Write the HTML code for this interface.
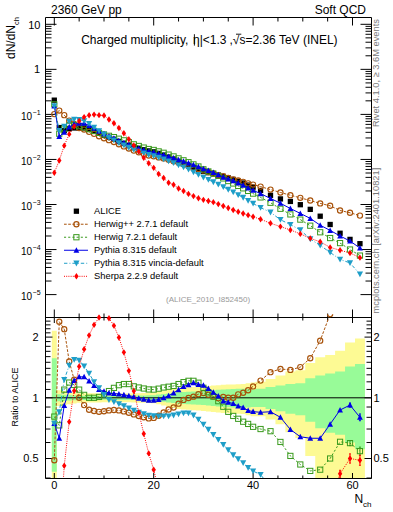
<!DOCTYPE html><html><head><meta charset="utf-8"><style>html,body{margin:0;padding:0;background:#fff;width:393px;height:512px;overflow:hidden}</style></head><body><svg width="393" height="512" viewBox="0 0 393 512" style="display:block"><defs><clipPath id="ct"><rect x="45.5" y="17.5" width="325.5" height="300"/></clipPath><clipPath id="cr"><rect x="45.5" y="317.5" width="325.5" height="160.5"/></clipPath><clipPath id="crm"><rect x="45.5" y="314.3" width="325.5" height="164.7"/></clipPath></defs><rect width="393" height="512" fill="#fff"/><g clip-path="url(#cr)"><path d="M51.81 330.77 L56.78 330.77 L56.78 390.25 L61.75 390.25 L61.75 391.06 L66.72 391.06 L66.72 391.74 L71.69 391.74 L71.69 392.42 L76.66 392.42 L76.66 393.11 L81.63 393.11 L81.63 393.19 L86.60 393.19 L86.60 393.28 L91.57 393.28 L91.57 393.36 L96.54 393.36 L96.54 393.44 L101.51 393.44 L101.51 393.53 L106.48 393.53 L106.48 393.53 L111.45 393.53 L111.45 393.53 L116.42 393.53 L116.42 393.53 L121.39 393.53 L121.39 393.53 L126.36 393.53 L126.36 393.53 L131.33 393.53 L131.33 393.36 L136.31 393.36 L136.31 393.19 L141.27 393.19 L141.27 393.03 L146.25 393.03 L146.25 392.86 L151.21 392.86 L151.21 392.70 L156.19 392.70 L156.19 391.71 L161.15 391.71 L161.15 390.74 L166.12 390.74 L166.12 389.77 L171.09 389.77 L171.09 388.82 L176.06 388.82 L176.06 387.88 L181.03 387.88 L181.03 387.56 L186.00 387.56 L186.00 387.25 L190.97 387.25 L190.97 386.94 L195.94 386.94 L195.94 386.63 L200.91 386.63 L200.91 386.33 L205.88 386.33 L205.88 385.94 L210.85 385.94 L210.85 385.56 L215.82 385.56 L215.82 385.18 L220.80 385.18 L220.80 384.80 L225.76 384.80 L225.76 384.61 L230.74 384.61 L230.74 384.43 L235.70 384.43 L235.70 384.24 L240.68 384.24 L240.68 384.05 L245.64 384.05 L245.64 383.31 L250.62 383.31 L250.62 382.57 L255.58 382.57 L255.58 381.83 L265.52 381.83 L265.52 378.96 L275.46 378.96 L275.46 375.50 L285.40 375.50 L285.40 371.52 L295.34 371.52 L295.34 370.23 L305.28 370.23 L305.28 362.88 L315.23 362.88 L315.23 357.19 L325.17 357.19 L325.17 355.01 L335.11 355.01 L335.11 350.82 L345.05 350.82 L345.05 342.52 L354.99 342.52 L354.99 338.42 L364.93 338.42 L364.93 704.87 L354.99 704.87 L354.99 583.47 L345.05 583.47 L345.05 509.28 L335.11 509.28 L335.11 489.73 L325.17 489.73 L325.17 482.53 L315.23 482.53 L315.23 455.91 L305.28 455.91 L305.28 437.98 L295.34 437.98 L295.34 432.35 L285.40 432.35 L285.40 424.17 L275.46 424.17 L275.46 419.56 L265.52 419.56 L265.52 416.25 L255.58 416.25 L255.58 416.25 L250.62 416.25 L250.62 415.18 L245.64 415.18 L245.64 414.12 L240.68 414.12 L240.68 413.85 L235.70 413.85 L235.70 413.59 L230.74 413.59 L230.74 413.33 L225.76 413.33 L225.76 413.07 L220.80 413.07 L220.80 412.55 L215.82 412.55 L215.82 412.03 L210.85 412.03 L210.85 411.52 L205.88 411.52 L205.88 411.01 L200.91 411.01 L200.91 410.60 L195.94 410.60 L195.94 410.20 L190.97 410.20 L190.97 409.79 L186.00 409.79 L186.00 409.39 L181.03 409.39 L181.03 408.99 L176.06 408.99 L176.06 407.81 L171.09 407.81 L171.09 406.64 L166.12 406.64 L166.12 405.48 L161.15 405.48 L161.15 404.34 L156.19 404.34 L156.19 403.22 L151.21 403.22 L151.21 403.03 L146.25 403.03 L146.25 402.85 L141.27 402.85 L141.27 402.66 L136.31 402.66 L136.31 402.48 L131.33 402.48 L131.33 402.29 L126.36 402.29 L126.36 402.29 L121.39 402.29 L121.39 402.29 L116.42 402.29 L116.42 402.29 L111.45 402.29 L111.45 402.29 L106.48 402.29 L106.48 402.29 L101.51 402.29 L101.51 402.38 L96.54 402.38 L96.54 402.48 L91.57 402.48 L91.57 402.57 L86.60 402.57 L86.60 402.66 L81.63 402.66 L81.63 402.75 L76.66 402.75 L76.66 403.53 L71.69 403.53 L71.69 404.31 L66.72 404.31 L66.72 405.10 L61.75 405.10 L61.75 406.06 L56.78 406.06 L56.78 480.00 L51.81 480.00Z" fill="#fdfa94"/><path d="M51.81 358.30 L56.78 358.30 L56.78 394.37 L61.75 394.37 L61.75 394.79 L66.72 394.79 L66.72 395.07 L71.69 395.07 L71.69 395.35 L76.66 395.35 L76.66 395.64 L81.63 395.64 L81.63 395.69 L86.60 395.69 L86.60 395.74 L91.57 395.74 L91.57 395.79 L96.54 395.79 L96.54 395.84 L101.51 395.84 L101.51 395.89 L106.48 395.89 L106.48 395.84 L111.45 395.84 L111.45 395.79 L116.42 395.79 L116.42 395.74 L121.39 395.74 L121.39 395.69 L126.36 395.69 L126.36 395.64 L131.33 395.64 L131.33 395.55 L136.31 395.55 L136.31 395.47 L141.27 395.47 L141.27 395.38 L146.25 395.38 L146.25 395.30 L151.21 395.30 L151.21 395.21 L156.19 395.21 L156.19 394.62 L161.15 394.62 L161.15 394.03 L166.12 394.03 L166.12 393.44 L171.09 393.44 L171.09 392.86 L176.06 392.86 L176.06 392.29 L181.03 392.29 L181.03 392.04 L186.00 392.04 L186.00 391.79 L190.97 391.79 L190.97 391.55 L195.94 391.55 L195.94 391.30 L200.91 391.30 L200.91 391.06 L205.88 391.06 L205.88 390.66 L210.85 390.66 L210.85 390.25 L215.82 390.25 L215.82 389.85 L220.80 389.85 L220.80 389.45 L225.76 389.45 L225.76 389.25 L230.74 389.25 L230.74 389.06 L235.70 389.06 L235.70 388.86 L240.68 388.86 L240.68 388.66 L245.64 388.66 L245.64 389.06 L250.62 389.06 L250.62 389.45 L255.58 389.45 L255.58 388.66 L265.52 388.66 L265.52 387.10 L275.46 387.10 L275.46 385.56 L285.40 385.56 L285.40 384.05 L295.34 384.05 L295.34 383.31 L305.28 383.31 L305.28 378.26 L315.23 378.26 L315.23 375.50 L325.17 375.50 L325.17 373.49 L335.11 373.49 L335.11 371.52 L345.05 371.52 L345.05 366.48 L354.99 366.48 L354.99 364.06 L364.93 364.06 L364.93 449.36 L354.99 449.36 L354.99 442.53 L345.05 442.53 L345.05 434.85 L335.11 434.85 L335.11 432.87 L325.17 432.87 L325.17 428.29 L315.23 428.29 L315.23 421.83 L305.28 421.83 L305.28 415.29 L295.34 415.29 L295.34 413.70 L285.40 413.70 L285.40 411.21 L275.46 411.21 L275.46 408.99 L265.52 408.99 L265.52 407.03 L255.58 407.03 L255.58 407.03 L250.62 407.03 L250.62 407.51 L245.64 407.51 L245.64 408.01 L240.68 408.01 L240.68 407.76 L235.70 407.76 L235.70 407.51 L230.74 407.51 L230.74 407.27 L225.76 407.27 L225.76 407.03 L220.80 407.03 L220.80 406.54 L215.82 406.54 L215.82 406.06 L210.85 406.06 L210.85 405.58 L205.88 405.58 L205.88 405.10 L200.91 405.10 L200.91 404.82 L195.94 404.82 L195.94 404.53 L190.97 404.53 L190.97 404.25 L186.00 404.25 L186.00 403.97 L181.03 403.97 L181.03 403.69 L176.06 403.69 L176.06 403.03 L171.09 403.03 L171.09 402.38 L166.12 402.38 L166.12 401.74 L161.15 401.74 L161.15 401.10 L156.19 401.10 L156.19 400.47 L151.21 400.47 L151.21 400.38 L146.25 400.38 L146.25 400.29 L141.27 400.29 L141.27 400.20 L136.31 400.20 L136.31 400.11 L131.33 400.11 L131.33 400.02 L126.36 400.02 L126.36 399.96 L121.39 399.96 L121.39 399.91 L116.42 399.91 L116.42 399.86 L111.45 399.86 L111.45 399.80 L106.48 399.80 L106.48 399.75 L101.51 399.75 L101.51 399.80 L96.54 399.80 L96.54 399.86 L91.57 399.86 L91.57 399.91 L86.60 399.91 L86.60 399.96 L81.63 399.96 L81.63 400.02 L76.66 400.02 L76.66 400.32 L71.69 400.32 L71.69 400.62 L66.72 400.62 L66.72 400.92 L61.75 400.92 L61.75 401.37 L56.78 401.37 L56.78 471.71 L51.81 471.71Z" fill="#98fb98"/></g><line x1="45.5" y1="397.80" x2="371" y2="397.80" stroke="#000" stroke-width="1"/><g stroke="#000" stroke-width="1" fill="none"><path d="M45.5 17.5H371.5V478.5H45.5Z"/><path d="M45.5 317.5H371.5"/><path d="M45.5 294.60h11M371.5 294.60h-11M45.5 281.04h6M371.5 281.04h-6M45.5 273.11h6M371.5 273.11h-6M45.5 267.48h6M371.5 267.48h-6M45.5 263.11h6M371.5 263.11h-6M45.5 259.54h6M371.5 259.54h-6M45.5 256.53h6M371.5 256.53h-6M45.5 253.92h6M371.5 253.92h-6M45.5 251.61h6M371.5 251.61h-6M45.5 249.55h11M371.5 249.55h-11M45.5 235.99h6M371.5 235.99h-6M45.5 228.06h6M371.5 228.06h-6M45.5 222.43h6M371.5 222.43h-6M45.5 218.06h6M371.5 218.06h-6M45.5 214.49h6M371.5 214.49h-6M45.5 211.48h6M371.5 211.48h-6M45.5 208.87h6M371.5 208.87h-6M45.5 206.56h6M371.5 206.56h-6M45.5 204.50h11M371.5 204.50h-11M45.5 190.94h6M371.5 190.94h-6M45.5 183.01h6M371.5 183.01h-6M45.5 177.38h6M371.5 177.38h-6M45.5 173.01h6M371.5 173.01h-6M45.5 169.44h6M371.5 169.44h-6M45.5 166.43h6M371.5 166.43h-6M45.5 163.82h6M371.5 163.82h-6M45.5 161.51h6M371.5 161.51h-6M45.5 159.45h11M371.5 159.45h-11M45.5 145.89h6M371.5 145.89h-6M45.5 137.96h6M371.5 137.96h-6M45.5 132.33h6M371.5 132.33h-6M45.5 127.96h6M371.5 127.96h-6M45.5 124.39h6M371.5 124.39h-6M45.5 121.38h6M371.5 121.38h-6M45.5 118.77h6M371.5 118.77h-6M45.5 116.46h6M371.5 116.46h-6M45.5 114.40h11M371.5 114.40h-11M45.5 100.84h6M371.5 100.84h-6M45.5 92.91h6M371.5 92.91h-6M45.5 87.28h6M371.5 87.28h-6M45.5 82.91h6M371.5 82.91h-6M45.5 79.34h6M371.5 79.34h-6M45.5 76.33h6M371.5 76.33h-6M45.5 73.72h6M371.5 73.72h-6M45.5 71.41h6M371.5 71.41h-6M45.5 69.35h11M371.5 69.35h-11M45.5 55.79h6M371.5 55.79h-6M45.5 47.86h6M371.5 47.86h-6M45.5 42.23h6M371.5 42.23h-6M45.5 37.86h6M371.5 37.86h-6M45.5 34.29h6M371.5 34.29h-6M45.5 31.28h6M371.5 31.28h-6M45.5 28.67h6M371.5 28.67h-6M45.5 26.36h6M371.5 26.36h-6M45.5 24.30h11M371.5 24.30h-11M54.30 17.5v8M54.30 317.5v-8M54.30 317.5v5.5M54.30 478.5v-5.5M79.15 17.5v4M79.15 317.5v-4M79.15 317.5v3M79.15 478.5v-3M104.00 17.5v4M104.00 317.5v-4M104.00 317.5v3M104.00 478.5v-3M128.85 17.5v4M128.85 317.5v-4M128.85 317.5v3M128.85 478.5v-3M153.70 17.5v8M153.70 317.5v-8M153.70 317.5v5.5M153.70 478.5v-5.5M178.55 17.5v4M178.55 317.5v-4M178.55 317.5v3M178.55 478.5v-3M203.40 17.5v4M203.40 317.5v-4M203.40 317.5v3M203.40 478.5v-3M228.25 17.5v4M228.25 317.5v-4M228.25 317.5v3M228.25 478.5v-3M253.10 17.5v8M253.10 317.5v-8M253.10 317.5v5.5M253.10 478.5v-5.5M277.95 17.5v4M277.95 317.5v-4M277.95 317.5v3M277.95 478.5v-3M302.80 17.5v4M302.80 317.5v-4M302.80 317.5v3M302.80 478.5v-3M327.65 17.5v4M327.65 317.5v-4M327.65 317.5v3M327.65 478.5v-3M352.50 17.5v8M352.50 317.5v-8M352.50 317.5v5.5M352.50 478.5v-5.5M45.5 478.04h5M371.5 478.04h-5M45.5 458.50h7M371.5 458.50h-7M45.5 442.53h5M371.5 442.53h-5M45.5 429.03h5M371.5 429.03h-5M45.5 417.34h5M371.5 417.34h-5M45.5 407.03h5M371.5 407.03h-5M45.5 397.80h7M371.5 397.80h-7M45.5 389.45h5M371.5 389.45h-5M45.5 381.83h5M371.5 381.83h-5M45.5 374.82h5M371.5 374.82h-5M45.5 368.33h5M371.5 368.33h-5M45.5 362.29h5M371.5 362.29h-5M45.5 356.64h5M371.5 356.64h-5M45.5 351.33h5M371.5 351.33h-5M45.5 346.33h5M371.5 346.33h-5M45.5 341.59h5M371.5 341.59h-5M45.5 337.10h7M371.5 337.10h-7M45.5 332.83h5M371.5 332.83h-5M45.5 328.75h5M371.5 328.75h-5M45.5 324.86h5M371.5 324.86h-5M45.5 321.13h5M371.5 321.13h-5"/></g><g clip-path="url(#cr)"><path d="M54.30 460.27 L59.27 321.68 L64.24 329.15 L69.21 361.42 L74.18 379.67 L79.15 397.80 L84.12 405.10 L89.09 409.79 L94.06 411.01 L99.03 411.83 L104.00 411.21 L108.97 410.40 L113.94 410.00 L118.91 410.40 L123.88 411.42 L128.85 412.76 L133.82 414.43 L138.79 416.04 L143.76 417.34 L148.73 418.44 L153.70 417.89 L158.67 415.71 L163.64 412.55 L168.61 409.49 L173.58 407.51 L178.55 403.69 L183.52 399.93 L188.49 397.98 L193.46 396.67 L198.43 394.20 L203.40 392.95 L208.37 394.79 L213.34 396.50 L218.31 398.24 L223.28 396.93 L228.25 397.80 L233.22 397.80 L238.19 394.37 L243.16 392.70 L248.13 390.25 L253.10 386.40 L260.56 380.60 L270.50 372.17 L280.44 368.96 L290.38 369.91 L300.31 367.09 L310.25 358.30 L320.19 340.67 L330.13 314.12 L340.07 295.94 L350.01 278.62 L359.95 272.13" fill="none" stroke="#a8520a" stroke-width="1" stroke-dasharray="2.7,1.5"/></g><g clip-path="url(#crm)"><circle cx="54.30" cy="460.27" r="2.6" fill="none" stroke="#a8520a" stroke-width="1.15"/><circle cx="59.27" cy="321.68" r="2.6" fill="none" stroke="#a8520a" stroke-width="1.15"/><circle cx="64.24" cy="329.15" r="2.6" fill="none" stroke="#a8520a" stroke-width="1.15"/><circle cx="69.21" cy="361.42" r="2.6" fill="none" stroke="#a8520a" stroke-width="1.15"/><circle cx="74.18" cy="379.67" r="2.6" fill="none" stroke="#a8520a" stroke-width="1.15"/><circle cx="79.15" cy="397.80" r="2.6" fill="none" stroke="#a8520a" stroke-width="1.15"/><circle cx="84.12" cy="405.10" r="2.6" fill="none" stroke="#a8520a" stroke-width="1.15"/><circle cx="89.09" cy="409.79" r="2.6" fill="none" stroke="#a8520a" stroke-width="1.15"/><circle cx="94.06" cy="411.01" r="2.6" fill="none" stroke="#a8520a" stroke-width="1.15"/><circle cx="99.03" cy="411.83" r="2.6" fill="none" stroke="#a8520a" stroke-width="1.15"/><circle cx="104.00" cy="411.21" r="2.6" fill="none" stroke="#a8520a" stroke-width="1.15"/><circle cx="108.97" cy="410.40" r="2.6" fill="none" stroke="#a8520a" stroke-width="1.15"/><circle cx="113.94" cy="410.00" r="2.6" fill="none" stroke="#a8520a" stroke-width="1.15"/><circle cx="118.91" cy="410.40" r="2.6" fill="none" stroke="#a8520a" stroke-width="1.15"/><circle cx="123.88" cy="411.42" r="2.6" fill="none" stroke="#a8520a" stroke-width="1.15"/><circle cx="128.85" cy="412.76" r="2.6" fill="none" stroke="#a8520a" stroke-width="1.15"/><circle cx="133.82" cy="414.43" r="2.6" fill="none" stroke="#a8520a" stroke-width="1.15"/><circle cx="138.79" cy="416.04" r="2.6" fill="none" stroke="#a8520a" stroke-width="1.15"/><circle cx="143.76" cy="417.34" r="2.6" fill="none" stroke="#a8520a" stroke-width="1.15"/><circle cx="148.73" cy="418.44" r="2.6" fill="none" stroke="#a8520a" stroke-width="1.15"/><circle cx="153.70" cy="417.89" r="2.6" fill="none" stroke="#a8520a" stroke-width="1.15"/><circle cx="158.67" cy="415.71" r="2.6" fill="none" stroke="#a8520a" stroke-width="1.15"/><circle cx="163.64" cy="412.55" r="2.6" fill="none" stroke="#a8520a" stroke-width="1.15"/><circle cx="168.61" cy="409.49" r="2.6" fill="none" stroke="#a8520a" stroke-width="1.15"/><circle cx="173.58" cy="407.51" r="2.6" fill="none" stroke="#a8520a" stroke-width="1.15"/><circle cx="178.55" cy="403.69" r="2.6" fill="none" stroke="#a8520a" stroke-width="1.15"/><circle cx="183.52" cy="399.93" r="2.6" fill="none" stroke="#a8520a" stroke-width="1.15"/><circle cx="188.49" cy="397.98" r="2.6" fill="none" stroke="#a8520a" stroke-width="1.15"/><circle cx="193.46" cy="396.67" r="2.6" fill="none" stroke="#a8520a" stroke-width="1.15"/><circle cx="198.43" cy="394.20" r="2.6" fill="none" stroke="#a8520a" stroke-width="1.15"/><circle cx="203.40" cy="392.95" r="2.6" fill="none" stroke="#a8520a" stroke-width="1.15"/><circle cx="208.37" cy="394.79" r="2.6" fill="none" stroke="#a8520a" stroke-width="1.15"/><circle cx="213.34" cy="396.50" r="2.6" fill="none" stroke="#a8520a" stroke-width="1.15"/><circle cx="218.31" cy="398.24" r="2.6" fill="none" stroke="#a8520a" stroke-width="1.15"/><circle cx="223.28" cy="396.93" r="2.6" fill="none" stroke="#a8520a" stroke-width="1.15"/><circle cx="228.25" cy="397.80" r="2.6" fill="none" stroke="#a8520a" stroke-width="1.15"/><circle cx="233.22" cy="397.80" r="2.6" fill="none" stroke="#a8520a" stroke-width="1.15"/><circle cx="238.19" cy="394.37" r="2.6" fill="none" stroke="#a8520a" stroke-width="1.15"/><circle cx="243.16" cy="392.70" r="2.6" fill="none" stroke="#a8520a" stroke-width="1.15"/><circle cx="248.13" cy="390.25" r="2.6" fill="none" stroke="#a8520a" stroke-width="1.15"/><circle cx="253.10" cy="386.40" r="2.6" fill="none" stroke="#a8520a" stroke-width="1.15"/><circle cx="260.56" cy="380.60" r="2.6" fill="none" stroke="#a8520a" stroke-width="1.15"/><circle cx="270.50" cy="372.17" r="2.6" fill="none" stroke="#a8520a" stroke-width="1.15"/><circle cx="280.44" cy="368.96" r="2.6" fill="none" stroke="#a8520a" stroke-width="1.15"/><circle cx="290.38" cy="369.91" r="2.6" fill="none" stroke="#a8520a" stroke-width="1.15"/><circle cx="300.31" cy="367.09" r="2.6" fill="none" stroke="#a8520a" stroke-width="1.15"/><circle cx="310.25" cy="358.30" r="2.6" fill="none" stroke="#a8520a" stroke-width="1.15"/><circle cx="320.19" cy="340.67" r="2.6" fill="none" stroke="#a8520a" stroke-width="1.15"/><circle cx="330.13" cy="314.12" r="2.6" fill="none" stroke="#a8520a" stroke-width="1.15"/></g><g clip-path="url(#cr)"><path d="M54.30 416.58 L59.27 425.36 L64.24 389.61 L69.21 382.57 L74.18 384.95 L79.15 389.61 L84.12 394.87 L89.09 397.80 L94.06 397.80 L99.03 396.93 L104.00 394.37 L108.97 391.06 L113.94 387.88 L118.91 385.18 L123.88 384.05 L128.85 384.05 L133.82 386.33 L138.79 387.49 L143.76 388.50 L148.73 389.45 L153.70 389.61 L158.67 388.66 L163.64 387.49 L168.61 386.71 L173.58 385.94 L178.55 384.05 L183.52 382.13 L188.49 380.82 L193.46 380.82 L198.43 382.71 L203.40 387.80 L208.37 392.29 L213.34 396.67 L218.31 401.19 L223.28 406.74 L228.25 411.83 L233.22 415.93 L238.19 418.78 L243.16 421.72 L248.13 423.93 L253.10 426.81 L260.56 429.03 L270.50 431.19 L280.44 441.95 L290.38 455.91 L300.31 464.48 L310.25 470.90 L320.19 469.69 L330.13 458.50 L340.07 441.81 L350.01 443.12 L359.95 451.11" fill="none" stroke="#3a9a1e" stroke-width="1" stroke-dasharray="2.1,2.1"/></g><g clip-path="url(#crm)"><path d="M350.01 440.62V445.62M349.01 440.62h2M349.01 445.62h2" stroke="#3a9a1e" stroke-width="1" fill="none"/><path d="M359.95 447.11V455.11M358.95 447.11h2M358.95 455.11h2" stroke="#3a9a1e" stroke-width="1" fill="none"/><rect x="51.70" y="413.98" width="5.20" height="5.20" fill="none" stroke="#3a9a1e" stroke-width="1"/><rect x="56.67" y="422.76" width="5.20" height="5.20" fill="none" stroke="#3a9a1e" stroke-width="1"/><rect x="61.64" y="387.01" width="5.20" height="5.20" fill="none" stroke="#3a9a1e" stroke-width="1"/><rect x="66.61" y="379.97" width="5.20" height="5.20" fill="none" stroke="#3a9a1e" stroke-width="1"/><rect x="71.58" y="382.35" width="5.20" height="5.20" fill="none" stroke="#3a9a1e" stroke-width="1"/><rect x="76.55" y="387.01" width="5.20" height="5.20" fill="none" stroke="#3a9a1e" stroke-width="1"/><rect x="81.52" y="392.27" width="5.20" height="5.20" fill="none" stroke="#3a9a1e" stroke-width="1"/><rect x="86.49" y="395.20" width="5.20" height="5.20" fill="none" stroke="#3a9a1e" stroke-width="1"/><rect x="91.46" y="395.20" width="5.20" height="5.20" fill="none" stroke="#3a9a1e" stroke-width="1"/><rect x="96.43" y="394.33" width="5.20" height="5.20" fill="none" stroke="#3a9a1e" stroke-width="1"/><rect x="101.40" y="391.77" width="5.20" height="5.20" fill="none" stroke="#3a9a1e" stroke-width="1"/><rect x="106.37" y="388.46" width="5.20" height="5.20" fill="none" stroke="#3a9a1e" stroke-width="1"/><rect x="111.34" y="385.28" width="5.20" height="5.20" fill="none" stroke="#3a9a1e" stroke-width="1"/><rect x="116.31" y="382.58" width="5.20" height="5.20" fill="none" stroke="#3a9a1e" stroke-width="1"/><rect x="121.28" y="381.45" width="5.20" height="5.20" fill="none" stroke="#3a9a1e" stroke-width="1"/><rect x="126.25" y="381.45" width="5.20" height="5.20" fill="none" stroke="#3a9a1e" stroke-width="1"/><rect x="131.22" y="383.73" width="5.20" height="5.20" fill="none" stroke="#3a9a1e" stroke-width="1"/><rect x="136.19" y="384.89" width="5.20" height="5.20" fill="none" stroke="#3a9a1e" stroke-width="1"/><rect x="141.16" y="385.90" width="5.20" height="5.20" fill="none" stroke="#3a9a1e" stroke-width="1"/><rect x="146.13" y="386.85" width="5.20" height="5.20" fill="none" stroke="#3a9a1e" stroke-width="1"/><rect x="151.10" y="387.01" width="5.20" height="5.20" fill="none" stroke="#3a9a1e" stroke-width="1"/><rect x="156.07" y="386.06" width="5.20" height="5.20" fill="none" stroke="#3a9a1e" stroke-width="1"/><rect x="161.04" y="384.89" width="5.20" height="5.20" fill="none" stroke="#3a9a1e" stroke-width="1"/><rect x="166.01" y="384.11" width="5.20" height="5.20" fill="none" stroke="#3a9a1e" stroke-width="1"/><rect x="170.98" y="383.34" width="5.20" height="5.20" fill="none" stroke="#3a9a1e" stroke-width="1"/><rect x="175.95" y="381.45" width="5.20" height="5.20" fill="none" stroke="#3a9a1e" stroke-width="1"/><rect x="180.92" y="379.53" width="5.20" height="5.20" fill="none" stroke="#3a9a1e" stroke-width="1"/><rect x="185.89" y="378.22" width="5.20" height="5.20" fill="none" stroke="#3a9a1e" stroke-width="1"/><rect x="190.86" y="378.22" width="5.20" height="5.20" fill="none" stroke="#3a9a1e" stroke-width="1"/><rect x="195.83" y="380.11" width="5.20" height="5.20" fill="none" stroke="#3a9a1e" stroke-width="1"/><rect x="200.80" y="385.20" width="5.20" height="5.20" fill="none" stroke="#3a9a1e" stroke-width="1"/><rect x="205.77" y="389.69" width="5.20" height="5.20" fill="none" stroke="#3a9a1e" stroke-width="1"/><rect x="210.74" y="394.07" width="5.20" height="5.20" fill="none" stroke="#3a9a1e" stroke-width="1"/><rect x="215.71" y="398.59" width="5.20" height="5.20" fill="none" stroke="#3a9a1e" stroke-width="1"/><rect x="220.68" y="404.14" width="5.20" height="5.20" fill="none" stroke="#3a9a1e" stroke-width="1"/><rect x="225.65" y="409.23" width="5.20" height="5.20" fill="none" stroke="#3a9a1e" stroke-width="1"/><rect x="230.62" y="413.33" width="5.20" height="5.20" fill="none" stroke="#3a9a1e" stroke-width="1"/><rect x="235.59" y="416.18" width="5.20" height="5.20" fill="none" stroke="#3a9a1e" stroke-width="1"/><rect x="240.56" y="419.12" width="5.20" height="5.20" fill="none" stroke="#3a9a1e" stroke-width="1"/><rect x="245.53" y="421.33" width="5.20" height="5.20" fill="none" stroke="#3a9a1e" stroke-width="1"/><rect x="250.50" y="424.21" width="5.20" height="5.20" fill="none" stroke="#3a9a1e" stroke-width="1"/><rect x="257.95" y="426.43" width="5.20" height="5.20" fill="none" stroke="#3a9a1e" stroke-width="1"/><rect x="267.89" y="428.59" width="5.20" height="5.20" fill="none" stroke="#3a9a1e" stroke-width="1"/><rect x="277.83" y="439.35" width="5.20" height="5.20" fill="none" stroke="#3a9a1e" stroke-width="1"/><rect x="287.77" y="453.31" width="5.20" height="5.20" fill="none" stroke="#3a9a1e" stroke-width="1"/><rect x="297.71" y="461.88" width="5.20" height="5.20" fill="none" stroke="#3a9a1e" stroke-width="1"/><rect x="307.65" y="468.30" width="5.20" height="5.20" fill="none" stroke="#3a9a1e" stroke-width="1"/><rect x="317.59" y="467.09" width="5.20" height="5.20" fill="none" stroke="#3a9a1e" stroke-width="1"/><rect x="327.53" y="455.90" width="5.20" height="5.20" fill="none" stroke="#3a9a1e" stroke-width="1"/><rect x="337.47" y="439.21" width="5.20" height="5.20" fill="none" stroke="#3a9a1e" stroke-width="1"/><rect x="347.41" y="440.52" width="5.20" height="5.20" fill="none" stroke="#3a9a1e" stroke-width="1"/><rect x="357.35" y="448.51" width="5.20" height="5.20" fill="none" stroke="#3a9a1e" stroke-width="1"/></g><g clip-path="url(#cr)"><path d="M54.30 423.46 L59.27 438.26 L64.24 405.39 L69.21 390.25 L74.18 380.39 L79.15 376.87 L84.12 376.87 L89.09 381.11 L94.06 385.56 L99.03 389.45 L104.00 391.30 L108.97 393.03 L113.94 393.53 L118.91 393.95 L123.88 394.79 L128.85 395.72 L133.82 396.67 L138.79 398.33 L143.76 399.30 L148.73 400.20 L153.70 400.20 L158.67 399.57 L163.64 397.80 L168.61 395.72 L173.58 392.95 L178.55 389.69 L183.52 386.56 L188.49 384.65 L193.46 382.71 L198.43 384.43 L203.40 385.33 L208.37 388.42 L213.34 392.29 L218.31 395.89 L223.28 401.01 L228.25 402.29 L233.22 403.50 L238.19 406.06 L243.16 407.42 L248.13 410.50 L253.10 411.62 L260.56 412.34 L270.50 411.72 L280.44 417.34 L290.38 429.54 L300.31 436.75 L310.25 438.26 L320.19 438.26 L330.13 424.17 L340.07 410.00 L350.01 405.10 L359.95 417.34" fill="none" stroke="#0000e6" stroke-width="1"/></g><g clip-path="url(#crm)"><path d="M350.01 403.10V407.10M349.01 403.10h2M349.01 407.10h2" stroke="#0000e6" stroke-width="1" fill="none"/><path d="M359.95 413.94V420.74M358.95 413.94h2M358.95 420.74h2" stroke="#0000e6" stroke-width="1" fill="none"/><path d="M54.30 420.46L57.20 425.96L51.40 425.96Z" fill="#0000e6"/><path d="M59.27 435.26L62.17 440.76L56.37 440.76Z" fill="#0000e6"/><path d="M64.24 402.39L67.14 407.89L61.34 407.89Z" fill="#0000e6"/><path d="M69.21 387.25L72.11 392.75L66.31 392.75Z" fill="#0000e6"/><path d="M74.18 377.39L77.08 382.89L71.28 382.89Z" fill="#0000e6"/><path d="M79.15 373.87L82.05 379.37L76.25 379.37Z" fill="#0000e6"/><path d="M84.12 373.87L87.02 379.37L81.22 379.37Z" fill="#0000e6"/><path d="M89.09 378.11L91.99 383.61L86.19 383.61Z" fill="#0000e6"/><path d="M94.06 382.56L96.96 388.06L91.16 388.06Z" fill="#0000e6"/><path d="M99.03 386.45L101.93 391.95L96.13 391.95Z" fill="#0000e6"/><path d="M104.00 388.30L106.90 393.80L101.10 393.80Z" fill="#0000e6"/><path d="M108.97 390.03L111.87 395.53L106.07 395.53Z" fill="#0000e6"/><path d="M113.94 390.53L116.84 396.03L111.04 396.03Z" fill="#0000e6"/><path d="M118.91 390.95L121.81 396.45L116.01 396.45Z" fill="#0000e6"/><path d="M123.88 391.79L126.78 397.29L120.98 397.29Z" fill="#0000e6"/><path d="M128.85 392.72L131.75 398.22L125.95 398.22Z" fill="#0000e6"/><path d="M133.82 393.67L136.72 399.17L130.92 399.17Z" fill="#0000e6"/><path d="M138.79 395.33L141.69 400.83L135.89 400.83Z" fill="#0000e6"/><path d="M143.76 396.30L146.66 401.80L140.86 401.80Z" fill="#0000e6"/><path d="M148.73 397.20L151.63 402.70L145.83 402.70Z" fill="#0000e6"/><path d="M153.70 397.20L156.60 402.70L150.80 402.70Z" fill="#0000e6"/><path d="M158.67 396.57L161.57 402.07L155.77 402.07Z" fill="#0000e6"/><path d="M163.64 394.80L166.54 400.30L160.74 400.30Z" fill="#0000e6"/><path d="M168.61 392.72L171.51 398.22L165.71 398.22Z" fill="#0000e6"/><path d="M173.58 389.95L176.48 395.45L170.68 395.45Z" fill="#0000e6"/><path d="M178.55 386.69L181.45 392.19L175.65 392.19Z" fill="#0000e6"/><path d="M183.52 383.56L186.42 389.06L180.62 389.06Z" fill="#0000e6"/><path d="M188.49 381.65L191.39 387.15L185.59 387.15Z" fill="#0000e6"/><path d="M193.46 379.71L196.36 385.21L190.56 385.21Z" fill="#0000e6"/><path d="M198.43 381.43L201.33 386.93L195.53 386.93Z" fill="#0000e6"/><path d="M203.40 382.33L206.30 387.83L200.50 387.83Z" fill="#0000e6"/><path d="M208.37 385.42L211.27 390.92L205.47 390.92Z" fill="#0000e6"/><path d="M213.34 389.29L216.24 394.79L210.44 394.79Z" fill="#0000e6"/><path d="M218.31 392.89L221.21 398.39L215.41 398.39Z" fill="#0000e6"/><path d="M223.28 398.01L226.18 403.51L220.38 403.51Z" fill="#0000e6"/><path d="M228.25 399.29L231.15 404.79L225.35 404.79Z" fill="#0000e6"/><path d="M233.22 400.50L236.12 406.00L230.32 406.00Z" fill="#0000e6"/><path d="M238.19 403.06L241.09 408.56L235.29 408.56Z" fill="#0000e6"/><path d="M243.16 404.42L246.06 409.92L240.26 409.92Z" fill="#0000e6"/><path d="M248.13 407.50L251.03 413.00L245.23 413.00Z" fill="#0000e6"/><path d="M253.10 408.62L256.00 414.12L250.20 414.12Z" fill="#0000e6"/><path d="M260.56 409.34L263.45 414.84L257.66 414.84Z" fill="#0000e6"/><path d="M270.50 408.72L273.39 414.22L267.60 414.22Z" fill="#0000e6"/><path d="M280.44 414.34L283.33 419.84L277.54 419.84Z" fill="#0000e6"/><path d="M290.38 426.54L293.27 432.04L287.48 432.04Z" fill="#0000e6"/><path d="M300.31 433.75L303.21 439.25L297.42 439.25Z" fill="#0000e6"/><path d="M310.25 435.26L313.15 440.76L307.36 440.76Z" fill="#0000e6"/><path d="M320.19 435.26L323.09 440.76L317.30 440.76Z" fill="#0000e6"/><path d="M330.13 421.17L333.03 426.67L327.24 426.67Z" fill="#0000e6"/><path d="M340.07 407.00L342.97 412.50L337.18 412.50Z" fill="#0000e6"/><path d="M350.01 402.10L352.91 407.60L347.12 407.60Z" fill="#0000e6"/><path d="M359.95 414.34L362.85 419.84L357.06 419.84Z" fill="#0000e6"/></g><g clip-path="url(#cr)"><path d="M54.30 423.46 L59.27 412.03 L64.24 379.67 L69.21 365.50 L74.18 359.70 L79.15 360.33 L84.12 366.11 L89.09 373.49 L94.06 381.83 L99.03 387.88 L104.00 394.79 L108.97 400.02 L113.94 401.83 L118.91 403.97 L123.88 405.87 L128.85 408.30 L133.82 410.40 L138.79 412.45 L143.76 414.01 L148.73 415.39 L153.70 416.04 L158.67 416.25 L163.64 416.25 L168.61 416.25 L173.58 415.29 L178.55 414.12 L183.52 413.17 L188.49 413.17 L193.46 415.29 L198.43 419.33 L203.40 424.41 L208.37 429.54 L213.34 434.59 L218.31 439.66 L223.28 444.75 L228.25 449.84 L233.22 455.07 L238.19 459.03 L243.16 462.99 L248.13 467.73 L253.10 471.10 L260.56 474.61 L270.50 487.27 L280.44 490.99 L290.38 501.50 L300.31 510.85 L310.25 530.79 L320.19 528.43 L330.13 522.77 L340.07 514.76 L350.01 503.23 L359.95 534.47" fill="none" stroke="#1e9ec8" stroke-width="1" stroke-dasharray="3.4,2.1,0.9,2.0"/></g><g clip-path="url(#crm)"><path d="M54.30 426.56L57.40 420.76L51.20 420.76Z" fill="#1e9ec8"/><path d="M59.27 415.13L62.37 409.33L56.17 409.33Z" fill="#1e9ec8"/><path d="M64.24 382.77L67.34 376.97L61.14 376.97Z" fill="#1e9ec8"/><path d="M69.21 368.60L72.31 362.80L66.11 362.80Z" fill="#1e9ec8"/><path d="M74.18 362.80L77.28 357.00L71.08 357.00Z" fill="#1e9ec8"/><path d="M79.15 363.43L82.25 357.63L76.05 357.63Z" fill="#1e9ec8"/><path d="M84.12 369.21L87.22 363.41L81.02 363.41Z" fill="#1e9ec8"/><path d="M89.09 376.59L92.19 370.79L85.99 370.79Z" fill="#1e9ec8"/><path d="M94.06 384.93L97.16 379.13L90.96 379.13Z" fill="#1e9ec8"/><path d="M99.03 390.98L102.13 385.18L95.93 385.18Z" fill="#1e9ec8"/><path d="M104.00 397.89L107.10 392.09L100.90 392.09Z" fill="#1e9ec8"/><path d="M108.97 403.12L112.07 397.32L105.87 397.32Z" fill="#1e9ec8"/><path d="M113.94 404.93L117.04 399.13L110.84 399.13Z" fill="#1e9ec8"/><path d="M118.91 407.07L122.01 401.27L115.81 401.27Z" fill="#1e9ec8"/><path d="M123.88 408.97L126.98 403.17L120.78 403.17Z" fill="#1e9ec8"/><path d="M128.85 411.40L131.95 405.60L125.75 405.60Z" fill="#1e9ec8"/><path d="M133.82 413.50L136.92 407.70L130.72 407.70Z" fill="#1e9ec8"/><path d="M138.79 415.55L141.89 409.75L135.69 409.75Z" fill="#1e9ec8"/><path d="M143.76 417.11L146.86 411.31L140.66 411.31Z" fill="#1e9ec8"/><path d="M148.73 418.49L151.83 412.69L145.63 412.69Z" fill="#1e9ec8"/><path d="M153.70 419.14L156.80 413.34L150.60 413.34Z" fill="#1e9ec8"/><path d="M158.67 419.35L161.77 413.55L155.57 413.55Z" fill="#1e9ec8"/><path d="M163.64 419.35L166.74 413.55L160.54 413.55Z" fill="#1e9ec8"/><path d="M168.61 419.35L171.71 413.55L165.51 413.55Z" fill="#1e9ec8"/><path d="M173.58 418.39L176.68 412.59L170.48 412.59Z" fill="#1e9ec8"/><path d="M178.55 417.22L181.65 411.42L175.45 411.42Z" fill="#1e9ec8"/><path d="M183.52 416.27L186.62 410.47L180.42 410.47Z" fill="#1e9ec8"/><path d="M188.49 416.27L191.59 410.47L185.39 410.47Z" fill="#1e9ec8"/><path d="M193.46 418.39L196.56 412.59L190.36 412.59Z" fill="#1e9ec8"/><path d="M198.43 422.43L201.53 416.63L195.33 416.63Z" fill="#1e9ec8"/><path d="M203.40 427.51L206.50 421.71L200.30 421.71Z" fill="#1e9ec8"/><path d="M208.37 432.64L211.47 426.84L205.27 426.84Z" fill="#1e9ec8"/><path d="M213.34 437.69L216.44 431.89L210.24 431.89Z" fill="#1e9ec8"/><path d="M218.31 442.76L221.41 436.96L215.21 436.96Z" fill="#1e9ec8"/><path d="M223.28 447.85L226.38 442.05L220.18 442.05Z" fill="#1e9ec8"/><path d="M228.25 452.94L231.35 447.14L225.15 447.14Z" fill="#1e9ec8"/><path d="M233.22 458.17L236.32 452.37L230.12 452.37Z" fill="#1e9ec8"/><path d="M238.19 462.13L241.29 456.33L235.09 456.33Z" fill="#1e9ec8"/><path d="M243.16 466.09L246.26 460.29L240.06 460.29Z" fill="#1e9ec8"/><path d="M248.13 470.83L251.23 465.03L245.03 465.03Z" fill="#1e9ec8"/><path d="M253.10 474.20L256.20 468.40L250.00 468.40Z" fill="#1e9ec8"/><path d="M260.56 477.71L263.66 471.91L257.45 471.91Z" fill="#1e9ec8"/></g><g clip-path="url(#cr)"><path d="M54.30 722.97 L59.27 545.10 L64.24 465.80 L69.21 421.83 L74.18 390.82 L79.15 366.48 L84.12 349.30 L89.09 335.37 L94.06 324.86 L99.03 317.56 L104.00 309.21 L108.97 318.26 L113.94 325.63 L118.91 337.54 L123.88 352.37 L128.85 370.87 L133.82 391.06 L138.79 412.45 L143.76 433.79 L148.73 453.40 L153.70 469.69 L158.67 489.73 L163.64 500.36 L168.61 512.46 L173.58 512.46 L178.55 519.20 L183.52 519.20 L188.49 522.77 L193.46 522.77 L198.43 524.62 L203.40 524.62 L208.37 524.62 L213.34 524.62 L218.31 527.46 L223.28 530.39 L228.25 532.41 L233.22 534.47 L238.19 534.47 L243.16 534.47 L248.13 532.41 L253.10 530.39 L260.56 526.50 L270.50 522.77 L280.44 521.69 L290.38 525.37 L300.31 528.43 L310.25 527.65 L320.19 512.46 L330.13 500.36 L340.07 473.77 L350.01 458.50 L359.95 460.27" fill="none" stroke="#ff0000" stroke-width="1" stroke-dasharray="1,1.2"/></g><g clip-path="url(#crm)"><path d="M340.07 470.27V477.27M339.07 470.27h2M339.07 477.27h2" stroke="#ff0000" stroke-width="1" fill="none"/><path d="M350.01 453.90V463.10M349.01 453.90h2M349.01 463.10h2" stroke="#ff0000" stroke-width="1" fill="none"/><path d="M359.95 455.27V465.27M358.95 455.27h2M358.95 465.27h2" stroke="#ff0000" stroke-width="1" fill="none"/><path d="M64.24 462.60L66.44 465.80L64.24 469.00L62.04 465.80Z" fill="#ff0000"/><path d="M69.21 418.63L71.41 421.83L69.21 425.03L67.01 421.83Z" fill="#ff0000"/><path d="M74.18 387.62L76.38 390.82L74.18 394.02L71.98 390.82Z" fill="#ff0000"/><path d="M79.15 363.28L81.35 366.48L79.15 369.68L76.95 366.48Z" fill="#ff0000"/><path d="M84.12 346.10L86.32 349.30L84.12 352.50L81.92 349.30Z" fill="#ff0000"/><path d="M89.09 332.17L91.29 335.37L89.09 338.57L86.89 335.37Z" fill="#ff0000"/><path d="M94.06 321.66L96.26 324.86L94.06 328.06L91.86 324.86Z" fill="#ff0000"/><path d="M99.03 314.36L101.23 317.56L99.03 320.76L96.83 317.56Z" fill="#ff0000"/><path d="M108.97 315.06L111.17 318.26L108.97 321.46L106.77 318.26Z" fill="#ff0000"/><path d="M113.94 322.43L116.14 325.63L113.94 328.83L111.74 325.63Z" fill="#ff0000"/><path d="M118.91 334.34L121.11 337.54L118.91 340.74L116.71 337.54Z" fill="#ff0000"/><path d="M123.88 349.17L126.08 352.37L123.88 355.57L121.68 352.37Z" fill="#ff0000"/><path d="M128.85 367.67L131.05 370.87L128.85 374.07L126.65 370.87Z" fill="#ff0000"/><path d="M133.82 387.86L136.02 391.06L133.82 394.26L131.62 391.06Z" fill="#ff0000"/><path d="M138.79 409.25L140.99 412.45L138.79 415.65L136.59 412.45Z" fill="#ff0000"/><path d="M143.76 430.59L145.96 433.79L143.76 436.99L141.56 433.79Z" fill="#ff0000"/><path d="M148.73 450.20L150.93 453.40L148.73 456.60L146.53 453.40Z" fill="#ff0000"/><path d="M153.70 466.49L155.90 469.69L153.70 472.89L151.50 469.69Z" fill="#ff0000"/><path d="M340.07 470.57L342.27 473.77L340.07 476.97L337.88 473.77Z" fill="#ff0000"/><path d="M350.01 455.30L352.21 458.50L350.01 461.70L347.81 458.50Z" fill="#ff0000"/><path d="M359.95 457.07L362.15 460.27L359.95 463.47L357.75 460.27Z" fill="#ff0000"/></g><g clip-path="url(#ct)"><rect x="51.65" y="97.52" width="5.30" height="5.30" fill="#000"/><rect x="56.62" y="124.92" width="5.30" height="5.30" fill="#000"/><rect x="61.59" y="127.81" width="5.30" height="5.30" fill="#000"/><rect x="66.56" y="126.11" width="5.30" height="5.30" fill="#000"/><rect x="71.53" y="125.31" width="5.30" height="5.30" fill="#000"/><rect x="76.50" y="125.31" width="5.30" height="5.30" fill="#000"/><rect x="81.47" y="125.31" width="5.30" height="5.30" fill="#000"/><rect x="86.44" y="126.52" width="5.30" height="5.30" fill="#000"/><rect x="91.41" y="128.26" width="5.30" height="5.30" fill="#000"/><rect x="96.38" y="130.42" width="5.30" height="5.30" fill="#000"/><rect x="101.35" y="132.57" width="5.30" height="5.30" fill="#000"/><rect x="106.32" y="134.66" width="5.30" height="5.30" fill="#000"/><rect x="111.29" y="136.66" width="5.30" height="5.30" fill="#000"/><rect x="116.26" y="138.87" width="5.30" height="5.30" fill="#000"/><rect x="121.23" y="140.76" width="5.30" height="5.30" fill="#000"/><rect x="126.20" y="142.57" width="5.30" height="5.30" fill="#000"/><rect x="131.17" y="144.24" width="5.30" height="5.30" fill="#000"/><rect x="136.14" y="145.63" width="5.30" height="5.30" fill="#000"/><rect x="141.11" y="147.00" width="5.30" height="5.30" fill="#000"/><rect x="146.08" y="148.23" width="5.30" height="5.30" fill="#000"/><rect x="151.05" y="149.13" width="5.30" height="5.30" fill="#000"/><rect x="156.02" y="150.78" width="5.30" height="5.30" fill="#000"/><rect x="160.99" y="152.43" width="5.30" height="5.30" fill="#000"/><rect x="165.96" y="154.42" width="5.30" height="5.30" fill="#000"/><rect x="170.93" y="156.41" width="5.30" height="5.30" fill="#000"/><rect x="175.90" y="158.79" width="5.30" height="5.30" fill="#000"/><rect x="180.87" y="161.17" width="5.30" height="5.30" fill="#000"/><rect x="185.84" y="163.35" width="5.30" height="5.30" fill="#000"/><rect x="190.81" y="165.53" width="5.30" height="5.30" fill="#000"/><rect x="195.78" y="167.19" width="5.30" height="5.30" fill="#000"/><rect x="200.75" y="168.86" width="5.30" height="5.30" fill="#000"/><rect x="205.72" y="170.01" width="5.30" height="5.30" fill="#000"/><rect x="210.69" y="171.16" width="5.30" height="5.30" fill="#000"/><rect x="215.66" y="172.47" width="5.30" height="5.30" fill="#000"/><rect x="220.63" y="173.77" width="5.30" height="5.30" fill="#000"/><rect x="225.60" y="175.28" width="5.30" height="5.30" fill="#000"/><rect x="230.57" y="176.79" width="5.30" height="5.30" fill="#000"/><rect x="235.54" y="178.57" width="5.30" height="5.30" fill="#000"/><rect x="240.51" y="180.36" width="5.30" height="5.30" fill="#000"/><rect x="245.48" y="182.42" width="5.30" height="5.30" fill="#000"/><rect x="250.45" y="184.48" width="5.30" height="5.30" fill="#000"/><rect x="257.91" y="187.81" width="5.30" height="5.30" fill="#000"/><rect x="267.85" y="192.65" width="5.30" height="5.30" fill="#000"/><rect x="277.79" y="196.27" width="5.30" height="5.30" fill="#000"/><rect x="287.73" y="198.78" width="5.30" height="5.30" fill="#000"/><rect x="297.67" y="202.05" width="5.30" height="5.30" fill="#000"/><rect x="307.61" y="206.71" width="5.30" height="5.30" fill="#000"/><rect x="317.55" y="213.55" width="5.30" height="5.30" fill="#000"/><rect x="327.49" y="221.84" width="5.30" height="5.30" fill="#000"/><rect x="337.43" y="230.60" width="5.30" height="5.30" fill="#000"/><rect x="347.37" y="236.75" width="5.30" height="5.30" fill="#000"/><rect x="357.31" y="241.03" width="5.30" height="5.30" fill="#000"/><path d="M54.30 114.12 L59.27 110.57 L64.24 115.13 L69.21 120.63 L74.18 123.91 L79.15 127.96 L84.12 129.59 L89.09 131.85 L94.06 133.86 L99.03 136.21 L104.00 138.22 L108.97 140.13 L113.94 142.03 L118.91 144.34 L123.88 146.45 L128.85 148.56 L133.82 150.61 L138.79 152.35 L143.76 154.02 L148.73 155.49 L153.70 156.27 L158.67 157.43 L163.64 158.38 L168.61 159.69 L173.58 161.23 L178.55 162.75 L183.52 164.29 L188.49 166.04 L193.46 167.93 L198.43 169.04 L203.40 170.42 L208.37 171.98 L213.34 173.52 L218.31 175.21 L223.28 176.23 L228.25 177.93 L233.22 179.44 L238.19 180.45 L243.16 181.87 L248.13 183.38 L253.10 184.58 L260.56 186.61 L270.50 189.58 L280.44 192.48 L290.38 195.20 L300.31 197.84 L310.25 200.54 L320.19 203.43 L330.13 205.79 L340.07 210.50 L350.01 212.77 L359.95 215.60" fill="none" stroke="#a8520a" stroke-width="1" stroke-dasharray="2.7,1.5"/><circle cx="54.30" cy="114.12" r="2.6" fill="none" stroke="#a8520a" stroke-width="1.15"/><circle cx="59.27" cy="110.57" r="2.6" fill="none" stroke="#a8520a" stroke-width="1.15"/><circle cx="64.24" cy="115.13" r="2.6" fill="none" stroke="#a8520a" stroke-width="1.15"/><circle cx="69.21" cy="120.63" r="2.6" fill="none" stroke="#a8520a" stroke-width="1.15"/><circle cx="74.18" cy="123.91" r="2.6" fill="none" stroke="#a8520a" stroke-width="1.15"/><circle cx="79.15" cy="127.96" r="2.6" fill="none" stroke="#a8520a" stroke-width="1.15"/><circle cx="84.12" cy="129.59" r="2.6" fill="none" stroke="#a8520a" stroke-width="1.15"/><circle cx="89.09" cy="131.85" r="2.6" fill="none" stroke="#a8520a" stroke-width="1.15"/><circle cx="94.06" cy="133.86" r="2.6" fill="none" stroke="#a8520a" stroke-width="1.15"/><circle cx="99.03" cy="136.21" r="2.6" fill="none" stroke="#a8520a" stroke-width="1.15"/><circle cx="104.00" cy="138.22" r="2.6" fill="none" stroke="#a8520a" stroke-width="1.15"/><circle cx="108.97" cy="140.13" r="2.6" fill="none" stroke="#a8520a" stroke-width="1.15"/><circle cx="113.94" cy="142.03" r="2.6" fill="none" stroke="#a8520a" stroke-width="1.15"/><circle cx="118.91" cy="144.34" r="2.6" fill="none" stroke="#a8520a" stroke-width="1.15"/><circle cx="123.88" cy="146.45" r="2.6" fill="none" stroke="#a8520a" stroke-width="1.15"/><circle cx="128.85" cy="148.56" r="2.6" fill="none" stroke="#a8520a" stroke-width="1.15"/><circle cx="133.82" cy="150.61" r="2.6" fill="none" stroke="#a8520a" stroke-width="1.15"/><circle cx="138.79" cy="152.35" r="2.6" fill="none" stroke="#a8520a" stroke-width="1.15"/><circle cx="143.76" cy="154.02" r="2.6" fill="none" stroke="#a8520a" stroke-width="1.15"/><circle cx="148.73" cy="155.49" r="2.6" fill="none" stroke="#a8520a" stroke-width="1.15"/><circle cx="153.70" cy="156.27" r="2.6" fill="none" stroke="#a8520a" stroke-width="1.15"/><circle cx="158.67" cy="157.43" r="2.6" fill="none" stroke="#a8520a" stroke-width="1.15"/><circle cx="163.64" cy="158.38" r="2.6" fill="none" stroke="#a8520a" stroke-width="1.15"/><circle cx="168.61" cy="159.69" r="2.6" fill="none" stroke="#a8520a" stroke-width="1.15"/><circle cx="173.58" cy="161.23" r="2.6" fill="none" stroke="#a8520a" stroke-width="1.15"/><circle cx="178.55" cy="162.75" r="2.6" fill="none" stroke="#a8520a" stroke-width="1.15"/><circle cx="183.52" cy="164.29" r="2.6" fill="none" stroke="#a8520a" stroke-width="1.15"/><circle cx="188.49" cy="166.04" r="2.6" fill="none" stroke="#a8520a" stroke-width="1.15"/><circle cx="193.46" cy="167.93" r="2.6" fill="none" stroke="#a8520a" stroke-width="1.15"/><circle cx="198.43" cy="169.04" r="2.6" fill="none" stroke="#a8520a" stroke-width="1.15"/><circle cx="203.40" cy="170.42" r="2.6" fill="none" stroke="#a8520a" stroke-width="1.15"/><circle cx="208.37" cy="171.98" r="2.6" fill="none" stroke="#a8520a" stroke-width="1.15"/><circle cx="213.34" cy="173.52" r="2.6" fill="none" stroke="#a8520a" stroke-width="1.15"/><circle cx="218.31" cy="175.21" r="2.6" fill="none" stroke="#a8520a" stroke-width="1.15"/><circle cx="223.28" cy="176.23" r="2.6" fill="none" stroke="#a8520a" stroke-width="1.15"/><circle cx="228.25" cy="177.93" r="2.6" fill="none" stroke="#a8520a" stroke-width="1.15"/><circle cx="233.22" cy="179.44" r="2.6" fill="none" stroke="#a8520a" stroke-width="1.15"/><circle cx="238.19" cy="180.45" r="2.6" fill="none" stroke="#a8520a" stroke-width="1.15"/><circle cx="243.16" cy="181.87" r="2.6" fill="none" stroke="#a8520a" stroke-width="1.15"/><circle cx="248.13" cy="183.38" r="2.6" fill="none" stroke="#a8520a" stroke-width="1.15"/><circle cx="253.10" cy="184.58" r="2.6" fill="none" stroke="#a8520a" stroke-width="1.15"/><circle cx="260.56" cy="186.61" r="2.6" fill="none" stroke="#a8520a" stroke-width="1.15"/><circle cx="270.50" cy="189.58" r="2.6" fill="none" stroke="#a8520a" stroke-width="1.15"/><circle cx="280.44" cy="192.48" r="2.6" fill="none" stroke="#a8520a" stroke-width="1.15"/><circle cx="290.38" cy="195.20" r="2.6" fill="none" stroke="#a8520a" stroke-width="1.15"/><circle cx="300.31" cy="197.84" r="2.6" fill="none" stroke="#a8520a" stroke-width="1.15"/><circle cx="310.25" cy="200.54" r="2.6" fill="none" stroke="#a8520a" stroke-width="1.15"/><circle cx="320.19" cy="203.43" r="2.6" fill="none" stroke="#a8520a" stroke-width="1.15"/><circle cx="330.13" cy="205.79" r="2.6" fill="none" stroke="#a8520a" stroke-width="1.15"/><circle cx="340.07" cy="210.50" r="2.6" fill="none" stroke="#a8520a" stroke-width="1.15"/><circle cx="350.01" cy="212.77" r="2.6" fill="none" stroke="#a8520a" stroke-width="1.15"/><circle cx="359.95" cy="215.60" r="2.6" fill="none" stroke="#a8520a" stroke-width="1.15"/><path d="M54.30 104.36 L59.27 133.73 L64.24 128.63 L69.21 125.36 L74.18 125.09 L79.15 126.13 L84.12 127.31 L89.09 129.17 L94.06 130.91 L99.03 132.88 L104.00 134.45 L108.97 135.81 L113.94 137.09 L118.91 138.70 L123.88 140.34 L128.85 142.14 L133.82 144.33 L138.79 145.97 L143.76 147.58 L148.73 149.01 L153.70 149.95 L158.67 151.39 L163.64 152.78 L168.61 154.60 L173.58 156.41 L178.55 158.37 L183.52 160.31 L188.49 162.20 L193.46 164.39 L198.43 166.47 L203.40 169.27 L208.37 171.43 L213.34 173.56 L218.31 175.87 L223.28 178.42 L228.25 181.06 L233.22 183.49 L238.19 185.91 L243.16 188.35 L248.13 190.91 L253.10 193.61 L260.56 197.43 L270.50 202.76 L280.44 208.78 L290.38 214.41 L300.31 219.59 L310.25 225.69 L320.19 232.26 L330.13 238.05 L340.07 243.09 L350.01 249.52 L359.95 255.59" fill="none" stroke="#3a9a1e" stroke-width="1" stroke-dasharray="2.1,2.1"/><rect x="51.70" y="101.76" width="5.20" height="5.20" fill="none" stroke="#3a9a1e" stroke-width="1"/><rect x="56.67" y="131.13" width="5.20" height="5.20" fill="none" stroke="#3a9a1e" stroke-width="1"/><rect x="61.64" y="126.03" width="5.20" height="5.20" fill="none" stroke="#3a9a1e" stroke-width="1"/><rect x="66.61" y="122.76" width="5.20" height="5.20" fill="none" stroke="#3a9a1e" stroke-width="1"/><rect x="71.58" y="122.49" width="5.20" height="5.20" fill="none" stroke="#3a9a1e" stroke-width="1"/><rect x="76.55" y="123.53" width="5.20" height="5.20" fill="none" stroke="#3a9a1e" stroke-width="1"/><rect x="81.52" y="124.71" width="5.20" height="5.20" fill="none" stroke="#3a9a1e" stroke-width="1"/><rect x="86.49" y="126.57" width="5.20" height="5.20" fill="none" stroke="#3a9a1e" stroke-width="1"/><rect x="91.46" y="128.31" width="5.20" height="5.20" fill="none" stroke="#3a9a1e" stroke-width="1"/><rect x="96.43" y="130.28" width="5.20" height="5.20" fill="none" stroke="#3a9a1e" stroke-width="1"/><rect x="101.40" y="131.85" width="5.20" height="5.20" fill="none" stroke="#3a9a1e" stroke-width="1"/><rect x="106.37" y="133.21" width="5.20" height="5.20" fill="none" stroke="#3a9a1e" stroke-width="1"/><rect x="111.34" y="134.49" width="5.20" height="5.20" fill="none" stroke="#3a9a1e" stroke-width="1"/><rect x="116.31" y="136.10" width="5.20" height="5.20" fill="none" stroke="#3a9a1e" stroke-width="1"/><rect x="121.28" y="137.74" width="5.20" height="5.20" fill="none" stroke="#3a9a1e" stroke-width="1"/><rect x="126.25" y="139.54" width="5.20" height="5.20" fill="none" stroke="#3a9a1e" stroke-width="1"/><rect x="131.22" y="141.73" width="5.20" height="5.20" fill="none" stroke="#3a9a1e" stroke-width="1"/><rect x="136.19" y="143.37" width="5.20" height="5.20" fill="none" stroke="#3a9a1e" stroke-width="1"/><rect x="141.16" y="144.98" width="5.20" height="5.20" fill="none" stroke="#3a9a1e" stroke-width="1"/><rect x="146.13" y="146.41" width="5.20" height="5.20" fill="none" stroke="#3a9a1e" stroke-width="1"/><rect x="151.10" y="147.35" width="5.20" height="5.20" fill="none" stroke="#3a9a1e" stroke-width="1"/><rect x="156.07" y="148.79" width="5.20" height="5.20" fill="none" stroke="#3a9a1e" stroke-width="1"/><rect x="161.04" y="150.18" width="5.20" height="5.20" fill="none" stroke="#3a9a1e" stroke-width="1"/><rect x="166.01" y="152.00" width="5.20" height="5.20" fill="none" stroke="#3a9a1e" stroke-width="1"/><rect x="170.98" y="153.81" width="5.20" height="5.20" fill="none" stroke="#3a9a1e" stroke-width="1"/><rect x="175.95" y="155.77" width="5.20" height="5.20" fill="none" stroke="#3a9a1e" stroke-width="1"/><rect x="180.92" y="157.71" width="5.20" height="5.20" fill="none" stroke="#3a9a1e" stroke-width="1"/><rect x="185.89" y="159.60" width="5.20" height="5.20" fill="none" stroke="#3a9a1e" stroke-width="1"/><rect x="190.86" y="161.79" width="5.20" height="5.20" fill="none" stroke="#3a9a1e" stroke-width="1"/><rect x="195.83" y="163.87" width="5.20" height="5.20" fill="none" stroke="#3a9a1e" stroke-width="1"/><rect x="200.80" y="166.67" width="5.20" height="5.20" fill="none" stroke="#3a9a1e" stroke-width="1"/><rect x="205.77" y="168.83" width="5.20" height="5.20" fill="none" stroke="#3a9a1e" stroke-width="1"/><rect x="210.74" y="170.96" width="5.20" height="5.20" fill="none" stroke="#3a9a1e" stroke-width="1"/><rect x="215.71" y="173.27" width="5.20" height="5.20" fill="none" stroke="#3a9a1e" stroke-width="1"/><rect x="220.68" y="175.82" width="5.20" height="5.20" fill="none" stroke="#3a9a1e" stroke-width="1"/><rect x="225.65" y="178.46" width="5.20" height="5.20" fill="none" stroke="#3a9a1e" stroke-width="1"/><rect x="230.62" y="180.89" width="5.20" height="5.20" fill="none" stroke="#3a9a1e" stroke-width="1"/><rect x="235.59" y="183.31" width="5.20" height="5.20" fill="none" stroke="#3a9a1e" stroke-width="1"/><rect x="240.56" y="185.75" width="5.20" height="5.20" fill="none" stroke="#3a9a1e" stroke-width="1"/><rect x="245.53" y="188.31" width="5.20" height="5.20" fill="none" stroke="#3a9a1e" stroke-width="1"/><rect x="250.50" y="191.01" width="5.20" height="5.20" fill="none" stroke="#3a9a1e" stroke-width="1"/><rect x="257.95" y="194.83" width="5.20" height="5.20" fill="none" stroke="#3a9a1e" stroke-width="1"/><rect x="267.89" y="200.16" width="5.20" height="5.20" fill="none" stroke="#3a9a1e" stroke-width="1"/><rect x="277.83" y="206.18" width="5.20" height="5.20" fill="none" stroke="#3a9a1e" stroke-width="1"/><rect x="287.77" y="211.81" width="5.20" height="5.20" fill="none" stroke="#3a9a1e" stroke-width="1"/><rect x="297.71" y="216.99" width="5.20" height="5.20" fill="none" stroke="#3a9a1e" stroke-width="1"/><rect x="307.65" y="223.09" width="5.20" height="5.20" fill="none" stroke="#3a9a1e" stroke-width="1"/><rect x="317.59" y="229.66" width="5.20" height="5.20" fill="none" stroke="#3a9a1e" stroke-width="1"/><rect x="327.53" y="235.45" width="5.20" height="5.20" fill="none" stroke="#3a9a1e" stroke-width="1"/><rect x="337.47" y="240.49" width="5.20" height="5.20" fill="none" stroke="#3a9a1e" stroke-width="1"/><rect x="347.41" y="246.92" width="5.20" height="5.20" fill="none" stroke="#3a9a1e" stroke-width="1"/><rect x="357.35" y="252.99" width="5.20" height="5.20" fill="none" stroke="#3a9a1e" stroke-width="1"/><path d="M54.30 105.90 L59.27 136.61 L64.24 132.16 L69.21 127.07 L74.18 124.07 L79.15 123.29 L84.12 123.29 L89.09 125.44 L94.06 128.18 L99.03 131.21 L104.00 133.77 L108.97 136.25 L113.94 138.35 L118.91 140.66 L123.88 142.74 L128.85 144.75 L133.82 146.64 L138.79 148.40 L143.76 149.99 L148.73 151.41 L153.70 152.32 L158.67 153.83 L163.64 155.08 L168.61 156.61 L173.58 157.98 L178.55 159.63 L183.52 161.30 L188.49 163.06 L193.46 164.81 L198.43 166.86 L203.40 168.72 L208.37 170.56 L213.34 172.58 L218.31 174.69 L223.28 177.14 L228.25 178.93 L233.22 180.71 L238.19 183.07 L243.16 185.15 L248.13 187.90 L253.10 190.22 L260.56 193.70 L270.50 198.42 L280.44 203.29 L290.38 208.52 L300.31 213.40 L310.25 218.40 L320.19 225.24 L330.13 230.38 L340.07 235.98 L350.01 241.03 L359.95 248.04" fill="none" stroke="#0000e6" stroke-width="1"/><path d="M54.30 102.90L57.20 108.40L51.40 108.40Z" fill="#0000e6"/><path d="M59.27 133.61L62.17 139.11L56.37 139.11Z" fill="#0000e6"/><path d="M64.24 129.16L67.14 134.66L61.34 134.66Z" fill="#0000e6"/><path d="M69.21 124.07L72.11 129.57L66.31 129.57Z" fill="#0000e6"/><path d="M74.18 121.07L77.08 126.57L71.28 126.57Z" fill="#0000e6"/><path d="M79.15 120.29L82.05 125.79L76.25 125.79Z" fill="#0000e6"/><path d="M84.12 120.29L87.02 125.79L81.22 125.79Z" fill="#0000e6"/><path d="M89.09 122.44L91.99 127.94L86.19 127.94Z" fill="#0000e6"/><path d="M94.06 125.18L96.96 130.68L91.16 130.68Z" fill="#0000e6"/><path d="M99.03 128.21L101.93 133.71L96.13 133.71Z" fill="#0000e6"/><path d="M104.00 130.77L106.90 136.27L101.10 136.27Z" fill="#0000e6"/><path d="M108.97 133.25L111.87 138.75L106.07 138.75Z" fill="#0000e6"/><path d="M113.94 135.35L116.84 140.85L111.04 140.85Z" fill="#0000e6"/><path d="M118.91 137.66L121.81 143.16L116.01 143.16Z" fill="#0000e6"/><path d="M123.88 139.74L126.78 145.24L120.98 145.24Z" fill="#0000e6"/><path d="M128.85 141.75L131.75 147.25L125.95 147.25Z" fill="#0000e6"/><path d="M133.82 143.64L136.72 149.14L130.92 149.14Z" fill="#0000e6"/><path d="M138.79 145.40L141.69 150.90L135.89 150.90Z" fill="#0000e6"/><path d="M143.76 146.99L146.66 152.49L140.86 152.49Z" fill="#0000e6"/><path d="M148.73 148.41L151.63 153.91L145.83 153.91Z" fill="#0000e6"/><path d="M153.70 149.32L156.60 154.82L150.80 154.82Z" fill="#0000e6"/><path d="M158.67 150.83L161.57 156.33L155.77 156.33Z" fill="#0000e6"/><path d="M163.64 152.08L166.54 157.58L160.74 157.58Z" fill="#0000e6"/><path d="M168.61 153.61L171.51 159.11L165.71 159.11Z" fill="#0000e6"/><path d="M173.58 154.98L176.48 160.48L170.68 160.48Z" fill="#0000e6"/><path d="M178.55 156.63L181.45 162.13L175.65 162.13Z" fill="#0000e6"/><path d="M183.52 158.30L186.42 163.80L180.62 163.80Z" fill="#0000e6"/><path d="M188.49 160.06L191.39 165.56L185.59 165.56Z" fill="#0000e6"/><path d="M193.46 161.81L196.36 167.31L190.56 167.31Z" fill="#0000e6"/><path d="M198.43 163.86L201.33 169.36L195.53 169.36Z" fill="#0000e6"/><path d="M203.40 165.72L206.30 171.22L200.50 171.22Z" fill="#0000e6"/><path d="M208.37 167.56L211.27 173.06L205.47 173.06Z" fill="#0000e6"/><path d="M213.34 169.58L216.24 175.08L210.44 175.08Z" fill="#0000e6"/><path d="M218.31 171.69L221.21 177.19L215.41 177.19Z" fill="#0000e6"/><path d="M223.28 174.14L226.18 179.64L220.38 179.64Z" fill="#0000e6"/><path d="M228.25 175.93L231.15 181.43L225.35 181.43Z" fill="#0000e6"/><path d="M233.22 177.71L236.12 183.21L230.32 183.21Z" fill="#0000e6"/><path d="M238.19 180.07L241.09 185.57L235.29 185.57Z" fill="#0000e6"/><path d="M243.16 182.15L246.06 187.65L240.26 187.65Z" fill="#0000e6"/><path d="M248.13 184.90L251.03 190.40L245.23 190.40Z" fill="#0000e6"/><path d="M253.10 187.22L256.00 192.72L250.20 192.72Z" fill="#0000e6"/><path d="M260.56 190.70L263.45 196.20L257.66 196.20Z" fill="#0000e6"/><path d="M270.50 195.42L273.39 200.92L267.60 200.92Z" fill="#0000e6"/><path d="M280.44 200.29L283.33 205.79L277.54 205.79Z" fill="#0000e6"/><path d="M290.38 205.52L293.27 211.02L287.48 211.02Z" fill="#0000e6"/><path d="M300.31 210.40L303.21 215.90L297.42 215.90Z" fill="#0000e6"/><path d="M310.25 215.40L313.15 220.90L307.36 220.90Z" fill="#0000e6"/><path d="M320.19 222.24L323.09 227.74L317.30 227.74Z" fill="#0000e6"/><path d="M330.13 227.38L333.03 232.88L327.24 232.88Z" fill="#0000e6"/><path d="M340.07 232.98L342.97 238.48L337.18 238.48Z" fill="#0000e6"/><path d="M350.01 238.03L352.91 243.53L347.12 243.53Z" fill="#0000e6"/><path d="M359.95 245.04L362.85 250.54L357.06 250.54Z" fill="#0000e6"/><path d="M54.30 105.90 L59.27 130.75 L64.24 126.41 L69.21 121.54 L74.18 119.45 L79.15 119.59 L84.12 120.88 L89.09 123.74 L94.06 127.35 L99.03 130.86 L104.00 134.55 L108.97 137.81 L113.94 140.21 L118.91 142.90 L123.88 145.21 L128.85 147.56 L133.82 149.71 L138.79 151.55 L143.76 153.27 L148.73 154.81 L153.70 155.85 L158.67 157.55 L163.64 159.21 L168.61 161.20 L173.58 162.97 L178.55 165.08 L183.52 167.25 L188.49 169.43 L193.46 172.09 L198.43 174.65 L203.40 177.45 L208.37 179.75 L213.34 182.03 L218.31 184.47 L223.28 186.91 L228.25 189.56 L233.22 192.23 L238.19 194.90 L243.16 197.57 L248.13 200.69 L253.10 203.50 L260.56 207.62 L270.50 212.28 L280.44 219.74 L290.38 224.60 L300.31 229.95 L310.25 239.07 L320.19 245.38 L330.13 252.41 L340.07 259.39 L350.01 262.96 L359.95 274.21" fill="none" stroke="#1e9ec8" stroke-width="1" stroke-dasharray="3.4,2.1,0.9,2.0"/><path d="M54.30 109.00L57.40 103.20L51.20 103.20Z" fill="#1e9ec8"/><path d="M59.27 133.85L62.37 128.05L56.17 128.05Z" fill="#1e9ec8"/><path d="M64.24 129.51L67.34 123.71L61.14 123.71Z" fill="#1e9ec8"/><path d="M69.21 124.64L72.31 118.84L66.11 118.84Z" fill="#1e9ec8"/><path d="M74.18 122.55L77.28 116.75L71.08 116.75Z" fill="#1e9ec8"/><path d="M79.15 122.69L82.25 116.89L76.05 116.89Z" fill="#1e9ec8"/><path d="M84.12 123.98L87.22 118.18L81.02 118.18Z" fill="#1e9ec8"/><path d="M89.09 126.84L92.19 121.04L85.99 121.04Z" fill="#1e9ec8"/><path d="M94.06 130.45L97.16 124.65L90.96 124.65Z" fill="#1e9ec8"/><path d="M99.03 133.96L102.13 128.16L95.93 128.16Z" fill="#1e9ec8"/><path d="M104.00 137.65L107.10 131.85L100.90 131.85Z" fill="#1e9ec8"/><path d="M108.97 140.91L112.07 135.11L105.87 135.11Z" fill="#1e9ec8"/><path d="M113.94 143.31L117.04 137.51L110.84 137.51Z" fill="#1e9ec8"/><path d="M118.91 146.00L122.01 140.20L115.81 140.20Z" fill="#1e9ec8"/><path d="M123.88 148.31L126.98 142.51L120.78 142.51Z" fill="#1e9ec8"/><path d="M128.85 150.66L131.95 144.86L125.75 144.86Z" fill="#1e9ec8"/><path d="M133.82 152.81L136.92 147.01L130.72 147.01Z" fill="#1e9ec8"/><path d="M138.79 154.65L141.89 148.85L135.69 148.85Z" fill="#1e9ec8"/><path d="M143.76 156.37L146.86 150.57L140.66 150.57Z" fill="#1e9ec8"/><path d="M148.73 157.91L151.83 152.11L145.63 152.11Z" fill="#1e9ec8"/><path d="M153.70 158.95L156.80 153.15L150.60 153.15Z" fill="#1e9ec8"/><path d="M158.67 160.65L161.77 154.85L155.57 154.85Z" fill="#1e9ec8"/><path d="M163.64 162.31L166.74 156.51L160.54 156.51Z" fill="#1e9ec8"/><path d="M168.61 164.30L171.71 158.50L165.51 158.50Z" fill="#1e9ec8"/><path d="M173.58 166.07L176.68 160.27L170.48 160.27Z" fill="#1e9ec8"/><path d="M178.55 168.18L181.65 162.38L175.45 162.38Z" fill="#1e9ec8"/><path d="M183.52 170.35L186.62 164.55L180.42 164.55Z" fill="#1e9ec8"/><path d="M188.49 172.53L191.59 166.73L185.39 166.73Z" fill="#1e9ec8"/><path d="M193.46 175.19L196.56 169.39L190.36 169.39Z" fill="#1e9ec8"/><path d="M198.43 177.75L201.53 171.95L195.33 171.95Z" fill="#1e9ec8"/><path d="M203.40 180.55L206.50 174.75L200.30 174.75Z" fill="#1e9ec8"/><path d="M208.37 182.85L211.47 177.05L205.27 177.05Z" fill="#1e9ec8"/><path d="M213.34 185.13L216.44 179.33L210.24 179.33Z" fill="#1e9ec8"/><path d="M218.31 187.57L221.41 181.77L215.21 181.77Z" fill="#1e9ec8"/><path d="M223.28 190.01L226.38 184.21L220.18 184.21Z" fill="#1e9ec8"/><path d="M228.25 192.66L231.35 186.86L225.15 186.86Z" fill="#1e9ec8"/><path d="M233.22 195.33L236.32 189.53L230.12 189.53Z" fill="#1e9ec8"/><path d="M238.19 198.00L241.29 192.20L235.09 192.20Z" fill="#1e9ec8"/><path d="M243.16 200.67L246.26 194.87L240.06 194.87Z" fill="#1e9ec8"/><path d="M248.13 203.79L251.23 197.99L245.03 197.99Z" fill="#1e9ec8"/><path d="M253.10 206.60L256.20 200.80L250.00 200.80Z" fill="#1e9ec8"/><path d="M260.56 210.72L263.66 204.92L257.45 204.92Z" fill="#1e9ec8"/><path d="M270.50 215.38L273.60 209.58L267.39 209.58Z" fill="#1e9ec8"/><path d="M280.44 222.84L283.54 217.04L277.33 217.04Z" fill="#1e9ec8"/><path d="M290.38 227.70L293.48 221.90L287.27 221.90Z" fill="#1e9ec8"/><path d="M300.31 233.05L303.42 227.25L297.21 227.25Z" fill="#1e9ec8"/><path d="M310.25 242.17L313.36 236.37L307.15 236.37Z" fill="#1e9ec8"/><path d="M320.19 248.48L323.30 242.68L317.09 242.68Z" fill="#1e9ec8"/><path d="M330.13 255.51L333.24 249.71L327.03 249.71Z" fill="#1e9ec8"/><path d="M340.07 262.49L343.18 256.69L336.97 256.69Z" fill="#1e9ec8"/><path d="M350.01 266.06L353.12 260.26L346.91 260.26Z" fill="#1e9ec8"/><path d="M359.95 277.31L363.06 271.51L356.85 271.51Z" fill="#1e9ec8"/><path d="M54.30 172.81 L59.27 160.48 L64.24 145.66 L69.21 134.13 L74.18 126.40 L79.15 120.96 L84.12 117.12 L89.09 115.22 L94.06 114.62 L99.03 115.15 L104.00 115.43 L108.97 119.54 L113.94 123.18 L118.91 128.06 L123.88 133.26 L128.85 139.20 L133.82 145.39 L138.79 151.55 L143.76 157.69 L148.73 163.30 L153.70 167.84 L158.67 173.97 L163.64 178.00 L168.61 182.69 L173.58 184.68 L178.55 188.56 L183.52 190.94 L188.49 193.92 L193.46 196.10 L198.43 198.18 L203.40 199.84 L208.37 200.99 L213.34 202.14 L218.31 204.08 L223.28 206.05 L228.25 208.00 L233.22 209.97 L238.19 211.76 L243.16 213.54 L248.13 215.14 L253.10 216.75 L260.56 219.21 L270.50 223.23 L280.44 226.60 L290.38 229.93 L300.31 233.88 L310.25 238.37 L320.19 241.81 L330.13 247.40 L340.07 250.23 L350.01 252.96 L359.95 257.64" fill="none" stroke="#ff0000" stroke-width="1" stroke-dasharray="1,1.2"/><path d="M54.30 169.61L56.50 172.81L54.30 176.01L52.10 172.81Z" fill="#ff0000"/><path d="M59.27 157.28L61.47 160.48L59.27 163.68L57.07 160.48Z" fill="#ff0000"/><path d="M64.24 142.46L66.44 145.66L64.24 148.86L62.04 145.66Z" fill="#ff0000"/><path d="M69.21 130.93L71.41 134.13L69.21 137.33L67.01 134.13Z" fill="#ff0000"/><path d="M74.18 123.20L76.38 126.40L74.18 129.60L71.98 126.40Z" fill="#ff0000"/><path d="M79.15 117.76L81.35 120.96L79.15 124.16L76.95 120.96Z" fill="#ff0000"/><path d="M84.12 113.92L86.32 117.12L84.12 120.32L81.92 117.12Z" fill="#ff0000"/><path d="M89.09 112.02L91.29 115.22L89.09 118.42L86.89 115.22Z" fill="#ff0000"/><path d="M94.06 111.42L96.26 114.62L94.06 117.82L91.86 114.62Z" fill="#ff0000"/><path d="M99.03 111.95L101.23 115.15L99.03 118.35L96.83 115.15Z" fill="#ff0000"/><path d="M104.00 112.23L106.20 115.43L104.00 118.63L101.80 115.43Z" fill="#ff0000"/><path d="M108.97 116.34L111.17 119.54L108.97 122.74L106.77 119.54Z" fill="#ff0000"/><path d="M113.94 119.98L116.14 123.18L113.94 126.38L111.74 123.18Z" fill="#ff0000"/><path d="M118.91 124.86L121.11 128.06L118.91 131.26L116.71 128.06Z" fill="#ff0000"/><path d="M123.88 130.06L126.08 133.26L123.88 136.46L121.68 133.26Z" fill="#ff0000"/><path d="M128.85 136.00L131.05 139.20L128.85 142.40L126.65 139.20Z" fill="#ff0000"/><path d="M133.82 142.19L136.02 145.39L133.82 148.59L131.62 145.39Z" fill="#ff0000"/><path d="M138.79 148.35L140.99 151.55L138.79 154.75L136.59 151.55Z" fill="#ff0000"/><path d="M143.76 154.49L145.96 157.69L143.76 160.89L141.56 157.69Z" fill="#ff0000"/><path d="M148.73 160.10L150.93 163.30L148.73 166.50L146.53 163.30Z" fill="#ff0000"/><path d="M153.70 164.64L155.90 167.84L153.70 171.04L151.50 167.84Z" fill="#ff0000"/><path d="M158.67 170.77L160.87 173.97L158.67 177.17L156.47 173.97Z" fill="#ff0000"/><path d="M163.64 174.80L165.84 178.00L163.64 181.20L161.44 178.00Z" fill="#ff0000"/><path d="M168.61 179.49L170.81 182.69L168.61 185.89L166.41 182.69Z" fill="#ff0000"/><path d="M173.58 181.48L175.78 184.68L173.58 187.88L171.38 184.68Z" fill="#ff0000"/><path d="M178.55 185.36L180.75 188.56L178.55 191.76L176.35 188.56Z" fill="#ff0000"/><path d="M183.52 187.74L185.72 190.94L183.52 194.14L181.32 190.94Z" fill="#ff0000"/><path d="M188.49 190.72L190.69 193.92L188.49 197.12L186.29 193.92Z" fill="#ff0000"/><path d="M193.46 192.90L195.66 196.10L193.46 199.30L191.26 196.10Z" fill="#ff0000"/><path d="M198.43 194.98L200.63 198.18L198.43 201.38L196.23 198.18Z" fill="#ff0000"/><path d="M203.40 196.64L205.60 199.84L203.40 203.04L201.20 199.84Z" fill="#ff0000"/><path d="M208.37 197.79L210.57 200.99L208.37 204.19L206.17 200.99Z" fill="#ff0000"/><path d="M213.34 198.94L215.54 202.14L213.34 205.34L211.14 202.14Z" fill="#ff0000"/><path d="M218.31 200.88L220.51 204.08L218.31 207.28L216.11 204.08Z" fill="#ff0000"/><path d="M223.28 202.85L225.48 206.05L223.28 209.25L221.08 206.05Z" fill="#ff0000"/><path d="M228.25 204.80L230.45 208.00L228.25 211.20L226.05 208.00Z" fill="#ff0000"/><path d="M233.22 206.77L235.42 209.97L233.22 213.17L231.02 209.97Z" fill="#ff0000"/><path d="M238.19 208.56L240.39 211.76L238.19 214.96L235.99 211.76Z" fill="#ff0000"/><path d="M243.16 210.34L245.36 213.54L243.16 216.74L240.96 213.54Z" fill="#ff0000"/><path d="M248.13 211.94L250.33 215.14L248.13 218.34L245.93 215.14Z" fill="#ff0000"/><path d="M253.10 213.55L255.30 216.75L253.10 219.95L250.90 216.75Z" fill="#ff0000"/><path d="M260.56 216.01L262.75 219.21L260.56 222.41L258.36 219.21Z" fill="#ff0000"/><path d="M270.50 220.03L272.69 223.23L270.50 226.43L268.30 223.23Z" fill="#ff0000"/><path d="M280.44 223.40L282.63 226.60L280.44 229.80L278.24 226.60Z" fill="#ff0000"/><path d="M290.38 226.73L292.57 229.93L290.38 233.13L288.18 229.93Z" fill="#ff0000"/><path d="M300.31 230.68L302.51 233.88L300.31 237.08L298.12 233.88Z" fill="#ff0000"/><path d="M310.25 235.17L312.45 238.37L310.25 241.57L308.06 238.37Z" fill="#ff0000"/><path d="M320.19 238.61L322.39 241.81L320.19 245.01L318.00 241.81Z" fill="#ff0000"/><path d="M330.13 244.20L332.33 247.40L330.13 250.60L327.94 247.40Z" fill="#ff0000"/><path d="M340.07 247.03L342.27 250.23L340.07 253.43L337.88 250.23Z" fill="#ff0000"/><path d="M350.01 249.76L352.21 252.96L350.01 256.16L347.81 252.96Z" fill="#ff0000"/><path d="M359.95 254.44L362.15 257.64L359.95 260.84L357.75 257.64Z" fill="#ff0000"/></g><text x="51" y="14" font-size="12" text-anchor="start" fill="#000" font-family="Liberation Sans, sans-serif" >2360 GeV pp</text><text x="366" y="14" font-size="12" text-anchor="end" fill="#000" font-family="Liberation Sans, sans-serif" >Soft QCD</text><text x="81.2" y="43.5" font-size="12" text-anchor="start" fill="#000" font-family="Liberation Sans, sans-serif" >Charged multiplicity,</text><text x="193.0" y="43.5" font-size="12" text-anchor="start" fill="#000" font-family="Liberation Sans, sans-serif" >η|&lt;1.3</text><text x="337.6" y="43.5" font-size="12" text-anchor="end" fill="#000" font-family="Liberation Sans, sans-serif" >,√s=2.36 TeV (INEL)</text><path d="M194.4 34.2V45.6M236 34.2H241.3" stroke="#000" stroke-width="0.9" fill="none"/><text x="40.5" y="28.5" font-size="11" text-anchor="end" fill="#000" font-family="Liberation Sans, sans-serif" >10</text><text x="40" y="73.3" font-size="11" text-anchor="end" fill="#000" font-family="Liberation Sans, sans-serif" >1</text><text x="32.2" y="120.00" font-size="10" text-anchor="end" fill="#000" font-family="Liberation Sans, sans-serif">10</text><text x="32.6" y="115.00" font-size="7" fill="#000" font-family="Liberation Sans, sans-serif">−1</text><text x="32.2" y="165.05" font-size="10" text-anchor="end" fill="#000" font-family="Liberation Sans, sans-serif">10</text><text x="32.6" y="160.05" font-size="7" fill="#000" font-family="Liberation Sans, sans-serif">−2</text><text x="32.2" y="210.10" font-size="10" text-anchor="end" fill="#000" font-family="Liberation Sans, sans-serif">10</text><text x="32.6" y="205.10" font-size="7" fill="#000" font-family="Liberation Sans, sans-serif">−3</text><text x="32.2" y="255.15" font-size="10" text-anchor="end" fill="#000" font-family="Liberation Sans, sans-serif">10</text><text x="32.6" y="250.15" font-size="7" fill="#000" font-family="Liberation Sans, sans-serif">−4</text><text x="32.2" y="300.20" font-size="10" text-anchor="end" fill="#000" font-family="Liberation Sans, sans-serif">10</text><text x="32.6" y="295.20" font-size="7" fill="#000" font-family="Liberation Sans, sans-serif">−5</text><text x="38.5" y="340.90" font-size="11" text-anchor="end" fill="#000" font-family="Liberation Sans, sans-serif" >2</text><text x="373.5" y="340.90" font-size="11" text-anchor="start" fill="#000" font-family="Liberation Sans, sans-serif" >2</text><text x="38.5" y="401.60" font-size="11" text-anchor="end" fill="#000" font-family="Liberation Sans, sans-serif" >1</text><text x="373.5" y="401.60" font-size="11" text-anchor="start" fill="#000" font-family="Liberation Sans, sans-serif" >1</text><text x="38.5" y="462.30" font-size="11" text-anchor="end" fill="#000" font-family="Liberation Sans, sans-serif" >0.5</text><text x="373.5" y="462.30" font-size="11" text-anchor="start" fill="#000" font-family="Liberation Sans, sans-serif" >0.5</text><text x="54.30" y="489" font-size="11" text-anchor="middle" fill="#000" font-family="Liberation Sans, sans-serif" >0</text><text x="153.70" y="489" font-size="11" text-anchor="middle" fill="#000" font-family="Liberation Sans, sans-serif" >20</text><text x="253.10" y="489" font-size="11" text-anchor="middle" fill="#000" font-family="Liberation Sans, sans-serif" >40</text><text x="352.50" y="489" font-size="11" text-anchor="middle" fill="#000" font-family="Liberation Sans, sans-serif" >60</text><text x="354.5" y="503" font-size="12" text-anchor="start" fill="#000" font-family="Liberation Sans, sans-serif" >N</text><text x="363" y="507" font-size="8" text-anchor="start" fill="#000" font-family="Liberation Sans, sans-serif" >ch</text><text transform="translate(15.2,59) rotate(-90)" font-size="12" font-family="Liberation Sans, sans-serif">dN/dN<tspan font-size="7.6" dy="3.6">ch</tspan></text><text transform="translate(17.7,426.5) rotate(-90)" font-size="9" font-family="Liberation Sans, sans-serif">Ratio to ALICE</text><text transform="translate(379,127) rotate(-90)" font-size="9.3" fill="#777" font-family="Liberation Sans, sans-serif">Rivet 4.1.0, ≥ 3.6M events</text><text transform="translate(379,313.5) rotate(-90)" font-size="9.3" fill="#777" font-family="Liberation Sans, sans-serif">mcplots.cern.ch [arXiv:2401.10821]</text><text x="166" y="301.5" font-size="8" text-anchor="start" fill="#999" font-family="Liberation Sans, sans-serif" >(ALICE_2010_I852450)</text><rect x="73.75" y="208.55" width="5.30" height="5.30" fill="#000"/><text x="94" y="213.80" font-size="9.35" text-anchor="start" fill="#000" font-family="Liberation Sans, sans-serif" >ALICE</text><path d="M64.00 224.22 L88.00 224.22" fill="none" stroke="#a8520a" stroke-width="1" stroke-dasharray="2.7,1.5"/><circle cx="76.40" cy="224.22" r="2.6" fill="none" stroke="#a8520a" stroke-width="1.15"/><text x="94" y="226.82" font-size="9.35" text-anchor="start" fill="#000" font-family="Liberation Sans, sans-serif" >Herwig++ 2.7.1 default</text><path d="M64.00 237.24 L88.00 237.24" fill="none" stroke="#3a9a1e" stroke-width="1" stroke-dasharray="2.1,2.1"/><rect x="73.80" y="234.64" width="5.20" height="5.20" fill="none" stroke="#3a9a1e" stroke-width="1"/><text x="94" y="239.84" font-size="9.35" text-anchor="start" fill="#000" font-family="Liberation Sans, sans-serif" >Herwig 7.2.1 default</text><path d="M64.00 250.26 L88.00 250.26" fill="none" stroke="#0000e6" stroke-width="1"/><path d="M76.40 247.26L79.30 252.76L73.50 252.76Z" fill="#0000e6"/><text x="94" y="252.86" font-size="9.35" text-anchor="start" fill="#000" font-family="Liberation Sans, sans-serif" >Pythia 8.315 default</text><path d="M64.00 263.28 L88.00 263.28" fill="none" stroke="#1e9ec8" stroke-width="1" stroke-dasharray="3.4,2.1,0.9,2.0"/><path d="M76.40 266.38L79.50 260.58L73.30 260.58Z" fill="#1e9ec8"/><text x="94" y="265.88" font-size="9.35" text-anchor="start" fill="#000" font-family="Liberation Sans, sans-serif" >Pythia 8.315 vincia-default</text><path d="M64.00 276.30 L88.00 276.30" fill="none" stroke="#ff0000" stroke-width="1" stroke-dasharray="1,1.2"/><path d="M76.40 273.10L78.60 276.30L76.40 279.50L74.20 276.30Z" fill="#ff0000"/><text x="94" y="278.90" font-size="9.35" text-anchor="start" fill="#000" font-family="Liberation Sans, sans-serif" >Sherpa 2.2.9 default</text></svg></body></html>
